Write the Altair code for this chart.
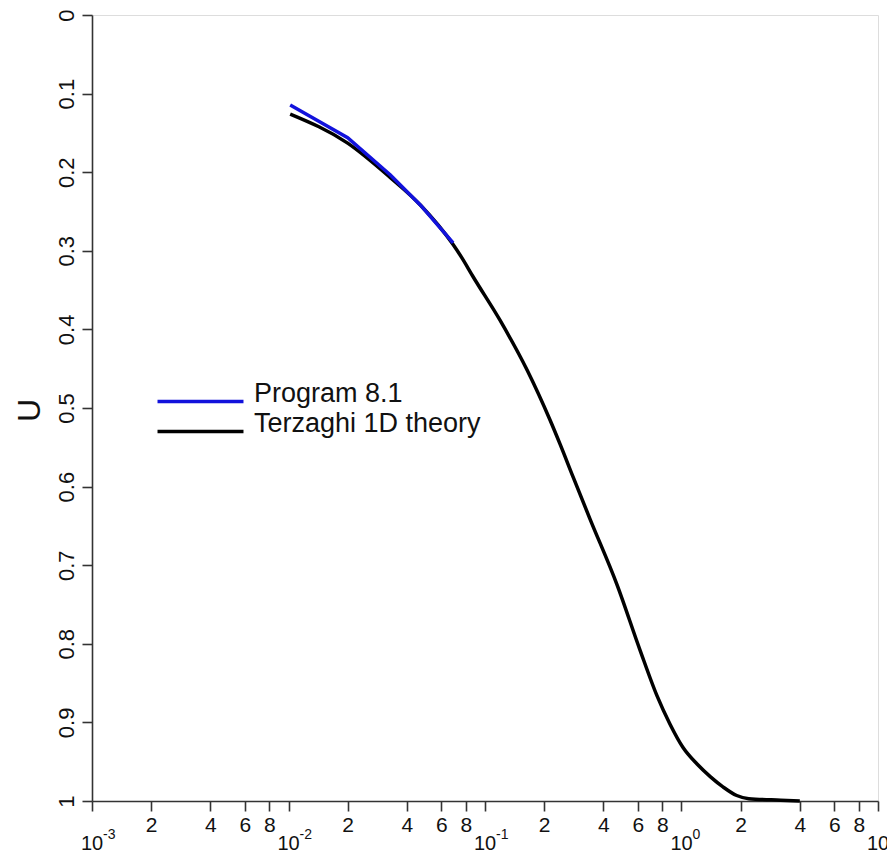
import altair as alt
import pandas as pd

# Terzaghi 1D theory curve (time factor T, degree of consolidation U)
terz_t = [0.0102, 0.02, 0.033, 0.047, 0.0688, 0.0763, 0.087, 0.119, 0.164, 0.214,
          0.241, 0.281, 0.342, 0.47, 0.615, 0.75, 0.873, 1.018, 1.2, 1.4, 1.625,
          1.91, 2.2, 3.2, 4.0]
terz_u = [0.126, 0.163, 0.207, 0.242, 0.292, 0.309, 0.333, 0.388, 0.452, 0.515,
          0.546, 0.588, 0.641, 0.725, 0.808, 0.866, 0.902, 0.932, 0.953, 0.969, 0.982,
          0.993, 0.997, 0.999, 1.0]
# Program 8.1 results
prog_t = [0.0102, 0.02, 0.033, 0.047, 0.0688]
prog_u = [0.1145, 0.156, 0.2036, 0.242, 0.290]

series_names = ["Program 8.1", "Terzaghi 1D theory"]
series_colors = ["#1212dc", "#000000"]

x_ticks = [0.001, 0.002, 0.004, 0.006, 0.008,
           0.01, 0.02, 0.04, 0.06, 0.08,
           0.1, 0.2, 0.4, 0.6, 0.8,
           1, 2, 4, 6, 8, 10]
decades = [0.001, 0.01, 0.1, 1, 10]
decade_exp = ["-3", "-2", "-1", "0", "1"]
y_ticks = [0, 0.1, 0.2, 0.3, 0.4, 0.5, 0.6, 0.7, 0.8, 0.9, 1]

FONT = "Liberation Sans"
W = 786
H = 786

df_terz = pd.DataFrame({"T": terz_t, "U": terz_u, "series": series_names[1]})
df_prog = pd.DataFrame({"T": prog_t, "U": prog_u, "series": series_names[0]})
df_dec = pd.DataFrame({"T": decades, "base": ["10"] * len(decades), "exp": decade_exp})

xscale = alt.Scale(type="log", domain=[0.001, 10], nice=False)
yscale = alt.Scale(domain=[0, 1], reverse=True, nice=False)

xaxis = alt.Axis(
    values=x_ticks,
    labelExpr="slice(format(datum.value, '.0e'), 0, 1) == '1' ? '' : slice(format(datum.value, '.0e'), 0, 1)",
    title=None, grid=False, tickSize=10, labelPadding=3,
    labelFontSize=21, labelFont=FONT, labelColor="#111",
    labelFlush=False, labelOverlap=False,
    domainColor="#333", tickColor="#333", domainWidth=1.6, tickWidth=1.6,
)
yaxis = alt.Axis(
    values=y_ticks,
    labelExpr="format(datum.value, '.1~f')",
    title="U", titleFontSize=32, titleFont=FONT, titleFontWeight="normal",
    titleColor="#111", titleAngle=-90, titleX=-53, titleY=395,
    titleAlign="center", titleBaseline="alphabetic",
    grid=False, tickSize=10, labelPadding=9,
    labelAngle=-90, labelAlign="center", labelBaseline="alphabetic",
    labelFontSize=22, labelFont=FONT, labelColor="#111",
    labelFlush=False, labelOverlap=False,
    domainColor="#333", tickColor="#333", domainWidth=1.6, tickWidth=1.6,
)

color = alt.Color(
    "series:N",
    scale=alt.Scale(domain=series_names, range=series_colors),
    legend=alt.Legend(
        title=None, orient="none", legendX=95, legendY=373,
        symbolType="M-4,0H4", symbolSize=462, symbolStrokeWidth=3.5,
        labelFontSize=27, labelFont=FONT, labelColor="#111", labelLimit=500,
        labelOffset=40, rowPadding=0, labelBaseline="alphabetic",
    ),
)

terz = alt.Chart(df_terz).mark_line(strokeWidth=3.5, interpolate="monotone").encode(
    x=alt.X("T:Q", scale=xscale, axis=xaxis),
    y=alt.Y("U:Q", scale=yscale, axis=yaxis),
    color=color,
)
prog = alt.Chart(df_prog).mark_line(strokeWidth=3.5).encode(
    x=alt.X("T:Q", scale=xscale),
    y=alt.Y("U:Q", scale=yscale),
    color=color,
)
dec_base = alt.Chart(df_dec).mark_text(
    fontSize=20, font=FONT, color="#111", align="center", baseline="middle"
).encode(x=alt.X("T:Q", scale=xscale), y=alt.value(H + 43), text="base:N")
dec_exp = alt.Chart(df_dec).mark_text(
    fontSize=14, font=FONT, color="#111", align="left", baseline="middle", dx=11
).encode(x=alt.X("T:Q", scale=xscale), y=alt.value(H + 34), text="exp:N")

chart = alt.layer(terz, prog, dec_base, dec_exp).properties(
    width=W, height=H,
    autosize=alt.AutoSizeParams(type="none"),
    padding={"left": 84, "top": 7, "right": 9, "bottom": 54},
).configure_view(stroke=None).configure(background="white")

chart.save("out.html", embed_options={"renderer": "svg", "actions": False})
